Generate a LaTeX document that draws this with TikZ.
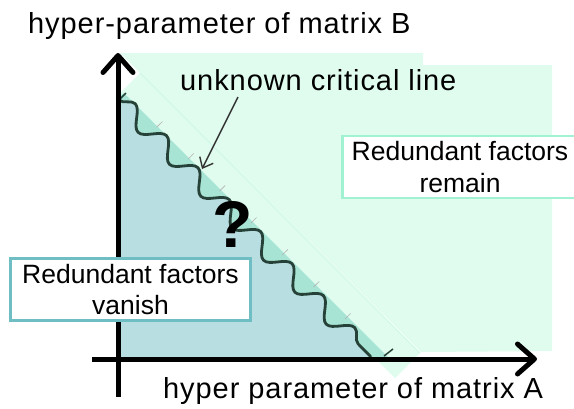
\documentclass[tikz,border=0pt]{standalone}
\usepackage{fontspec}
\setmainfont{Liberation Sans}
\newfontfamily\labelfont[LetterSpace=3.2]{Liberation Sans}
\usetikzlibrary{arrows.meta,decorations.pathmorphing}

\definecolor{mintbg}{RGB}{223,252,238}
\definecolor{mintmid}{RGB}{168,228,212}
\definecolor{tealbg}{RGB}{184,222,225}
\definecolor{mintedge}{RGB}{160,242,210}
\definecolor{tealedge}{RGB}{110,190,196}
\definecolor{wavecol}{RGB}{38,66,56}
\definecolor{seamcol}{RGB}{205,248,230}

\begin{document}
\begin{tikzpicture}[
  x=1pt, y=-1pt,
  axis/.style={-{Straight Barb[length=17pt,width=30pt,round]}, line width=5pt, black},
  pointer/.style={-{Straight Barb[length=9pt,width=15pt]}, line width=1.4pt, black!80},
  wavedeco/.style={decoration={snake, segment length=44.8pt, amplitude=9pt}},
  critline/.style={decorate, wavedeco, line width=2.8pt, wavecol},
  tickmark/.style={gray!60, line width=0.6pt},
  regionbox/.style={fill=white, line width=2.7pt, align=center, inner sep=0pt,
    minimum height=62pt, font=\fontsize{26.5}{31.5}\selectfont},
  axislabel/.style={anchor=base west, inner sep=0pt, font=\fontsize{29}{35}\labelfont}
]

  \useasboundingbox (0,0) rectangle (574,408);
  \clip (0,0) rectangle (574,408);

  % --- shaded regions ---
  \fill[mintbg] (120,53) -- (423,53) -- (423,65) -- (552,65) -- (552,351) -- (421,352) -- cycle;
  \fill[mintbg] (140,73) -- (420,353) -- (395,378) -- (115,98) -- cycle;
  \draw[seamcol, line width=0.8pt] (140,73) -- (420,353);

  \coordinate (origin) at (118,359);
  \coordinate (wtop) at (119,100);
  \coordinate (wbot) at (371,357);

  \fill[mintmid] (118,97) -- (124,93) -- (390,359) -- (origin) -- cycle;
  \fill[tealbg] (origin) -- (wtop) decorate[wavedeco] {-- (wbot)} -- cycle;

  % small marks along the outer side of the wave
  \foreach \k in {1,...,7} {
    \pgfmathsetmacro\sx{119+0.700*(\k*44.8+1)}
    \pgfmathsetmacro\sy{100+0.714*(\k*44.8+1)}
    \draw[tickmark] (\sx+5.7,\sy-5.6) -- (\sx+11.4,\sy-11.2);
  }
  \draw[wavecol, line width=1.5pt] (wtop) -- (126,93);
  \draw[wavecol, line width=1.5pt] (384,356) -- (393,349);

  % --- critical line ---
  \draw[critline] (wtop) -- (wbot);

  % --- axes ---
  \coordinate (ybase) at (118,397);
  \coordinate (ytip) at (118,53);
  \coordinate (xbase) at (92,359);
  \coordinate (xtip) at (537,359);
  \draw[axis] (ybase) -- (ytip);
  \draw[axis] (xbase) -- (xtip);

  % --- labels ---
  \node[axislabel] (ylab) at (28,33) {hyper-parameter of matrix B};
  \node[axislabel] (xlab) at (163,398) {hyper parameter of matrix A};
  \node[axislabel] (critlab) at (180,90) {unknown critical line};
  \coordinate (critfrom) at (238,97);
  \coordinate (crittip) at (202,169);
  \draw[pointer] (critfrom) -- (crittip);

  \node[inner sep=0pt, anchor=base, font=\fontsize{66}{66}\selectfont\bfseries] (qmark) at (232.5,247) {?};

  \node[regionbox, draw=mintedge, minimum width=235pt] (remainbox) at (460,167) {Redundant factors\\remain};
  \node[regionbox, draw=tealedge, minimum width=240pt] (vanishbox) at (130.5,289.5) {Redundant factors\\vanish};

\end{tikzpicture}
\end{document}
